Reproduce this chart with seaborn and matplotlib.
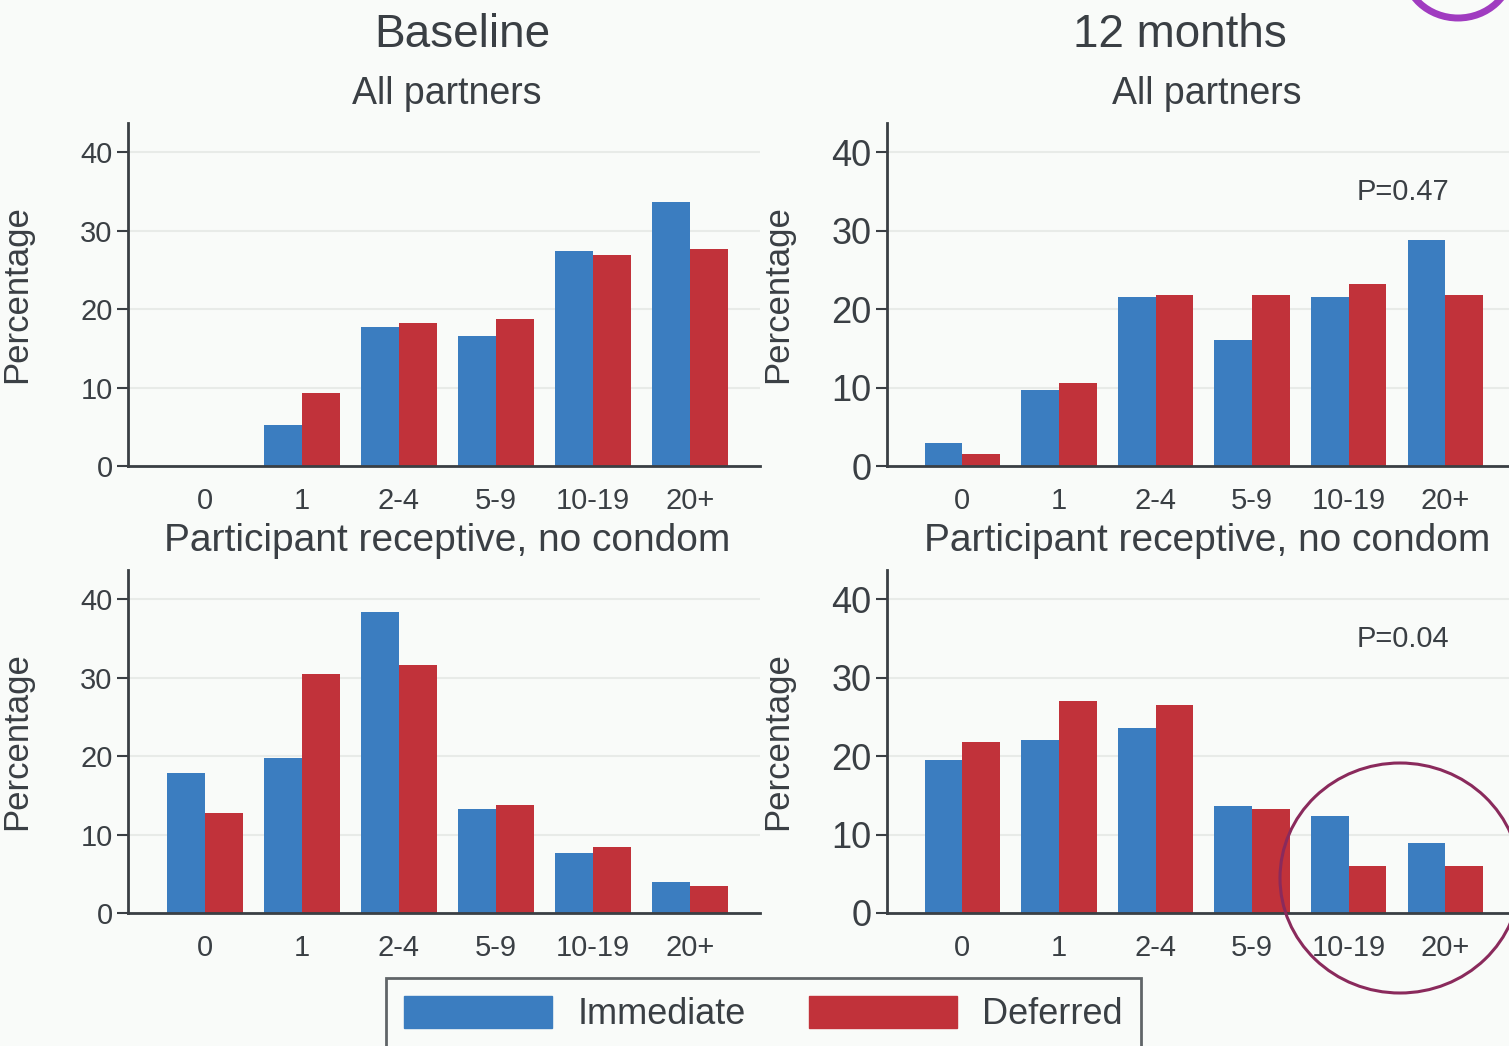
import pandas as pd
import matplotlib.pyplot as plt
import seaborn as sns
from matplotlib.patches import Ellipse

# data
categories = ["0", "1", "2-4", "5-9", "10-19", "20+"]
groups = ["Immediate", "Deferred"]

base_all_imm = [0, 5.2, 17.7, 16.6, 27.4, 33.6]
base_all_def = [0, 9.3, 18.2, 18.7, 26.9, 27.6]
m12_all_imm = [2.9, 9.7, 21.5, 16.0, 21.5, 28.8]
m12_all_def = [1.5, 10.6, 21.8, 21.8, 23.2, 21.8]
base_rec_imm = [17.8, 19.7, 38.4, 13.3, 7.6, 3.9]
base_rec_def = [12.7, 30.5, 31.6, 13.7, 8.4, 3.5]
m12_rec_imm = [19.5, 22.1, 23.6, 13.6, 12.4, 8.9]
m12_rec_def = [21.8, 27.0, 26.5, 13.3, 6.0, 6.0]

p_values = {"all": "P=0.47", "rec": "P=0.04"}

colors = {"Immediate": "#3b7dc0", "Deferred": "#c1323a"}
bg = "#f9fbf9"
dark = "#3a3f44"

sns.set_theme(style="white")
plt.rcParams['font.family'] = ['Liberation Sans', 'DejaVu Sans']


def long_df(imm, dfr):
    return pd.DataFrame({
        "Category": categories * 2,
        "Group": ["Immediate"] * len(categories) + ["Deferred"] * len(categories),
        "Percentage": list(imm) + list(dfr),
    })


fig = plt.figure(figsize=(15.09, 10.46), dpi=100)
fig.patch.set_facecolor(bg)

W, H = 1509, 1046
panels = [
    # left px, right px, zero-line px, data, right column?, p-value
    (128, 760, 466, long_df(base_all_imm, base_all_def), False, None),
    (887, 1509, 466, long_df(m12_all_imm, m12_all_def), True, p_values["all"]),
    (128, 760, 913, long_df(base_rec_imm, base_rec_def), False, None),
    (887, 1509, 913, long_df(m12_rec_imm, m12_rec_def), True, p_values["rec"]),
]

for x0, x1, y0, df, right, ptxt in panels:
    ax = fig.add_axes([x0 / W, 1 - y0 / H, (x1 - x0) / W, 343 / H])
    ax.set_facecolor(bg)
    sns.barplot(data=df, x="Category", y="Percentage", hue="Group",
                hue_order=groups, palette=colors, width=0.78, gap=0,
                saturation=1, edgecolor="none", legend=False, ax=ax)
    ax.set_ylim(0, 43.7)
    if right:
        ax.set_xlim(-0.78, 5.66)
    else:
        ax.set_xlim(-0.79, 5.72)
    ax.set_yticks([0, 10, 20, 30, 40])
    ax.yaxis.grid(True, color="#e8ebe8", linewidth=1.5)
    ax.set_axisbelow(True)
    for s in ["top", "right"]:
        ax.spines[s].set_visible(False)
    for s in ["left", "bottom"]:
        ax.spines[s].set_color(dark)
        ax.spines[s].set_linewidth(2)
    ax.tick_params(axis="y", left=True, length=8, width=1.5, color=dark,
                   labelsize=26 if right else 21, labelcolor=dark, pad=3)
    ax.tick_params(axis="x", bottom=False, labelsize=21, labelcolor=dark, pad=9)
    ax.set_xlabel("")
    ax.set_ylabel("Percentage", fontsize=25, color=dark)
    ax.yaxis.set_label_coords(-0.15, 0.5)
    if ptxt:
        ax.text(0.83, 0.80, ptxt, transform=ax.transAxes, ha="center",
                va="center", fontsize=21, color=dark)

# titles
fig.text(462 / W, 1 - 35 / H, "Baseline", ha="center", va="center", fontsize=33, color=dark)
fig.text(1180 / W, 1 - 35 / H, "12 months", ha="center", va="center", fontsize=33, color=dark)
for xc in (447, 1207):
    fig.text(xc / W, 1 - 94 / H, "All partners", ha="center", va="center",
             fontsize=27, color=dark)
    fig.text(xc / W, 1 - 541 / H, "Participant receptive, no condom",
             ha="center", va="center", fontsize=28, color=dark)

# legend
handles = [plt.Rectangle((0, 0), 1, 1, color=colors[g]) for g in groups]
leg = fig.legend(handles, groups, loc="upper center", ncol=2,
                 bbox_to_anchor=(0.506, 1 - 978 / H), fontsize=26,
                 handlelength=4.1, handleheight=0.97, columnspacing=1.75,
                 handletextpad=0.7, borderpad=0.5, borderaxespad=0,
                 fancybox=False, frameon=True, labelcolor=dark)
leg.get_frame().set_edgecolor(dark)
leg.get_frame().set_linewidth(2)
leg.get_frame().set_facecolor(bg)

# highlight circle on the last two categories
fig.patches.append(Ellipse((1400 / W, 1 - 878 / H), 240 / W, 230 / H,
                           transform=fig.transFigure, fill=False,
                           edgecolor="#8a2a5c", linewidth=2.2))
# logo arc at top right corner
fig.patches.append(Ellipse((1458 / W, 1 + 32 / H), 108 / W, 100 / H,
                           transform=fig.transFigure, fill=False,
                           edgecolor="#a03cc0", linewidth=5))

fig.savefig("out.png", dpi=100, facecolor=bg)
plt.close(fig)
